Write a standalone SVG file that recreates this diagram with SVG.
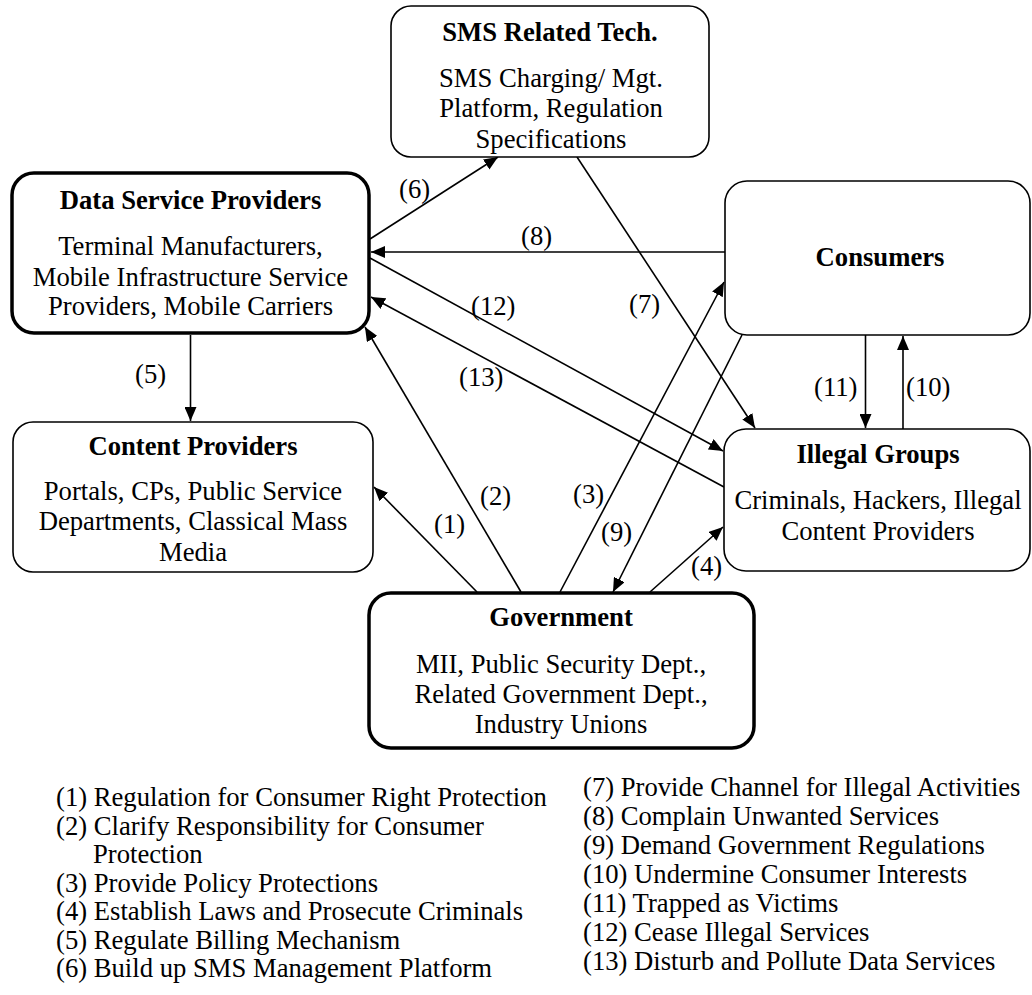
<svg xmlns="http://www.w3.org/2000/svg" width="1032" height="995" viewBox="0 0 1032 995">
<defs>
<marker id="ah" markerUnits="userSpaceOnUse" markerWidth="14" markerHeight="12" refX="14" refY="6" orient="auto">
<path d="M0,0 L14,6 L0,12 z" fill="#000"/>
</marker>
<style>
text{font-family:"Liberation Serif","Times New Roman",serif;font-size:26.67px;fill:#000}
.t{font-weight:bold;text-anchor:middle}
.b{text-anchor:middle}
.box{fill:#fff;stroke:#000;stroke-width:1.6}
.thick{fill:#fff;stroke:#000;stroke-width:3.5}
.c{stroke:#000;stroke-width:1.6;fill:none;marker-end:url(#ah)}
</style>
</defs>
<rect width="1032" height="995" fill="#fff"/>
<g id="connectors">
<path class="c" d="M477,592 L374,487"/>
<path class="c" d="M521,592 L365,327"/>
<path class="c" d="M560,592 L724,282"/>
<path class="c" d="M650,592 L723,527"/>
<path class="c" d="M190.5,335 L190.5,421"/>
<path class="c" d="M370,239 L498,157"/>
<path class="c" d="M577,157 L755,428"/>
<path class="c" d="M725,252 L371,252"/>
<path class="c" d="M742,335 L613,592"/>
<path class="c" d="M903,429 L903,336"/>
<path class="c" d="M865.5,335 L865.5,428"/>
<path class="c" d="M370,258 L723,451"/>
<path class="c" d="M724,487 L371,297"/>
<text x="434" y="533">(1)</text>
<text x="480" y="505">(2)</text>
<text x="573" y="503">(3)</text>
<text x="691" y="575">(4)</text>
<text x="135" y="383">(5)</text>
<text x="399" y="198">(6)</text>
<text x="629" y="313">(7)</text>
<text x="521" y="245">(8)</text>
<text x="601" y="541">(9)</text>
<text x="906" y="396">(10)</text>
<text x="814" y="396">(11)</text>
<text x="471" y="315">(12)</text>
<text x="459" y="386">(13)</text>
</g>
<g id="sms">
<rect class="box" x="391" y="6" width="318" height="151" rx="20"/>
<text class="t" x="550" y="41">SMS Related Tech.</text>
<text class="b" x="551" y="87">SMS Charging/ Mgt.</text>
<text class="b" x="551" y="117">Platform, Regulation</text>
<text class="b" x="551" y="148">Specifications</text>
</g>
<g id="dsp">
<rect class="thick" x="12" y="173" width="357" height="160" rx="22"/>
<text class="t" x="190.5" y="209">Data Service Providers</text>
<text class="b" x="190.5" y="255">Terminal Manufacturers,</text>
<text class="b" x="190.5" y="286">Mobile Infrastructure Service</text>
<text class="b" x="190.5" y="315">Providers, Mobile Carriers</text>
</g>
<g id="consumers">
<rect class="box" x="725" y="181" width="305" height="154" rx="22"/>
<text class="t" x="880" y="266">Consumers</text>
</g>
<g id="content">
<rect class="box" x="13" y="422" width="360" height="150" rx="20"/>
<text class="t" x="193" y="455">Content Providers</text>
<text class="b" x="193" y="500">Portals, CPs, Public Service</text>
<text class="b" x="193" y="530">Departments, Classical Mass</text>
<text class="b" x="193" y="561">Media</text>
</g>
<g id="illegal">
<rect class="box" x="724" y="429" width="306" height="142" rx="22"/>
<text class="t" x="878" y="463">Illegal Groups</text>
<text class="b" x="878" y="509">Criminals, Hackers, Illegal</text>
<text class="b" x="878" y="540">Content Providers</text>
</g>
<g id="government">
<rect class="thick" x="369" y="593" width="385" height="155" rx="22"/>
<text class="t" x="561" y="626">Government</text>
<text class="b" x="561" y="673">MII, Public Security Dept.,</text>
<text class="b" x="561" y="703">Related Government Dept.,</text>
<text class="b" x="561" y="733">Industry Unions</text>
</g>
<g id="legend">
<text x="56" y="806">(1) Regulation for Consumer Right Protection</text>
<text x="56" y="834.5">(2) Clarify Responsibility for Consumer</text>
<text x="93" y="863">Protection</text>
<text x="56" y="891.5">(3) Provide Policy Protections</text>
<text x="56" y="920">(4) Establish Laws and Prosecute Criminals</text>
<text x="56" y="948.5">(5) Regulate Billing Mechanism</text>
<text x="56" y="977">(6) Build up SMS Management Platform</text>
<text x="583" y="796">(7) Provide Channel for Illegal Activities</text>
<text x="583" y="825">(8) Complain Unwanted Services</text>
<text x="583" y="854">(9) Demand Government Regulations</text>
<text x="583" y="883">(10) Undermine Consumer Interests</text>
<text x="583" y="912">(11) Trapped as Victims</text>
<text x="583" y="941">(12) Cease Illegal Services</text>
<text x="583" y="970">(13) Disturb and Pollute Data Services</text>
</g>
</svg>
